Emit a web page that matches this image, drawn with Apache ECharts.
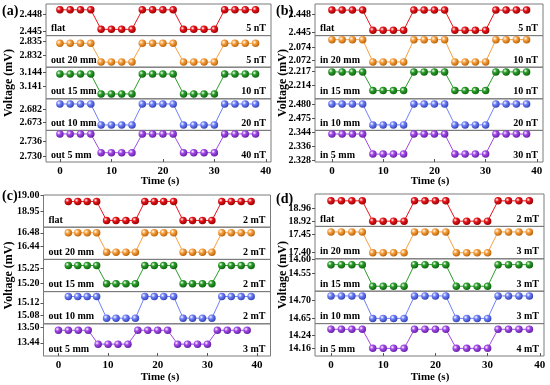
<!DOCTYPE html>
<html><head><meta charset="utf-8">
<script src="https://cdn.jsdelivr.net/npm/echarts@6/dist/echarts.min.js"></script>
<style>html,body{margin:0;padding:0;background:#fff}#c{width:550px;height:385px}</style>
</head><body><div id="c"></div>
<script>
// ---------- DATA ----------
const timeStd = [0,2,4,6,8,10,12,14,16,18,20,22,24,26,28,30,32,34,36,38];
const timeC   = [2.0,3.9,5.8,7.7,9.7,11.6,13.6,15.5,17.4,19.3,21.2,23.2,25.1,27.0,29.0,30.9,32.9,34.8,36.8,38.8];
const xTicks = [0,10,20,30,40];

// panel (a)
const a_flat  = [2.4489,2.4489,2.4489,2.4489,2.4453,2.4453,2.4453,2.4453,2.4489,2.4489,2.4489,2.4489,2.4453,2.4453,2.4453,2.4453,2.4489,2.4489,2.4489,2.4489];
const a_out20 = [2.8346,2.8346,2.8346,2.8346,2.8304,2.8304,2.8304,2.8304,2.8346,2.8346,2.8346,2.8346,2.8304,2.8304,2.8304,2.8304,2.8346,2.8346,2.8346,2.8346];
const a_out15 = [3.1437,3.1437,3.1437,3.1437,3.1392,3.1392,3.1392,3.1392,3.1437,3.1437,3.1437,3.1437,3.1392,3.1392,3.1392,3.1392,3.1437,3.1437,3.1437,3.1437];
const a_out10 = [2.6854,2.6854,2.6854,2.6854,2.6712,2.6712,2.6712,2.6712,2.6854,2.6854,2.6854,2.6854,2.6712,2.6712,2.6712,2.6712,2.6854,2.6854,2.6854,2.6854];
const a_out5  = [2.7391,2.7391,2.7391,2.7391,2.7316,2.7316,2.7316,2.7316,2.7391,2.7391,2.7391,2.7391,2.7316,2.7316,2.7316,2.7316,2.7391,2.7391,2.7391,2.7391];
// panel (b)
const b_flat  = [2.4488,2.4488,2.4488,2.4488,2.4453,2.4453,2.4453,2.4453,2.4488,2.4488,2.4488,2.4488,2.4453,2.4453,2.4453,2.4453,2.4488,2.4488,2.4488,2.4488];
const b_in20  = [2.0752,2.0752,2.0752,2.0752,2.0717,2.0717,2.0717,2.0717,2.0752,2.0752,2.0752,2.0752,2.0717,2.0717,2.0717,2.0717,2.0752,2.0752,2.0752,2.0752];
const b_in15  = [2.2168,2.2168,2.2168,2.2168,2.2128,2.2128,2.2128,2.2128,2.2168,2.2168,2.2168,2.2168,2.2128,2.2128,2.2128,2.2128,2.2168,2.2168,2.2168,2.2168];
const b_in10  = [2.4800,2.4800,2.4800,2.4800,2.4727,2.4727,2.4727,2.4727,2.4800,2.4800,2.4800,2.4800,2.4727,2.4727,2.4727,2.4727,2.4800,2.4800,2.4800,2.4800];
const b_in5   = [2.3430,2.3430,2.3430,2.3430,2.3314,2.3314,2.3314,2.3314,2.3430,2.3430,2.3430,2.3430,2.3314,2.3314,2.3314,2.3314,2.3430,2.3430,2.3430,2.3430];
// panel (c)
const c_flat  = [18.982,18.982,18.982,18.982,18.923,18.923,18.923,18.923,18.982,18.982,18.982,18.982,18.923,18.923,18.923,18.923,18.982,18.982,18.982,18.982];
const c_out20 = [16.480,16.480,16.480,16.480,16.422,16.422,16.422,16.422,16.480,16.480,16.480,16.480,16.422,16.422,16.422,16.422,16.480,16.480,16.480,16.480];
const c_out15 = [15.260,15.260,15.260,15.260,15.200,15.200,15.200,15.200,15.260,15.260,15.260,15.260,15.200,15.200,15.200,15.200,15.260,15.260,15.260,15.260];
const c_out10 = [15.140,15.140,15.140,15.140,15.071,15.071,15.071,15.071,15.140,15.140,15.140,15.140,15.071,15.071,15.071,15.071,15.140,15.140,15.140,15.140];
const c_out5  = [13.490,13.490,13.490,13.490,13.435,13.435,13.435,13.435,13.490,13.490,13.490,13.490,13.435,13.435,13.435,13.435,13.490,13.490,13.490,13.490];
// panel (d)
const d_flat  = [18.983,18.983,18.983,18.983,18.921,18.921,18.921,18.921,18.983,18.983,18.983,18.983,18.921,18.921,18.921,18.921,18.983,18.983,18.983,18.983];
const d_in20  = [17.457,17.457,17.457,17.457,17.398,17.398,17.398,17.398,17.457,17.457,17.457,17.457,17.398,17.398,17.398,17.398,17.457,17.457,17.457,17.457];
const d_in15  = [14.581,14.581,14.581,14.581,14.507,14.507,14.507,14.507,14.581,14.581,14.581,14.581,14.507,14.507,14.507,14.507,14.581,14.581,14.581,14.581];
const d_in10  = [14.711,14.711,14.711,14.711,14.650,14.650,14.650,14.650,14.711,14.711,14.711,14.711,14.650,14.650,14.650,14.650,14.711,14.711,14.711,14.711];
const d_in5   = [14.276,14.276,14.276,14.276,14.160,14.160,14.160,14.160,14.276,14.276,14.276,14.276,14.160,14.160,14.160,14.160,14.276,14.276,14.276,14.276];

// y tick labels
const a_yTicks = [[2.445,2.448],[2.832,2.835],[3.141,3.144],[2.673,2.682],[2.730,2.736]];
const b_yTicks = [[2.445,2.448],[2.072,2.074],[2.214,2.217],[2.475,2.480],[2.328,2.336,2.344]];
const c_yTicks = [[18.95,19.00],[16.44,16.48],[15.20,15.25],[15.08,15.12],[13.44,13.50]];
const d_yTicks = [[18.92,18.96],[17.40,17.45],[14.55,14.60],[14.65,14.70],[14.16,14.24]];

// axis ranges
const a_yRange = [[2.44415,2.44997],[2.82925,2.83633],[3.13811,3.14524],[2.66752,2.6889],[2.72788,2.74052]];
const b_yRange = [[2.44438,2.44986],[2.07087,2.07584],[2.21104,2.21781],[2.47077,2.48182],[2.32684,2.3451]];
const c_yRange = [[18.902,19.002],[16.4003,16.4967],[15.174,15.28],[15.053,15.1557],[13.388,13.5156]];
const d_yRange = [[18.905,19.0039],[17.381,17.4727],[14.49,14.601],[14.6358,14.7239],[14.1136,14.3105]];

const a_names = ['flat','out 20 mm','out 15 mm','out 10 mm','out 5 mm'];
const b_names = ['flat','in 20 mm','in 15 mm','in 10 mm','in 5 mm'];
const c_names = ['flat','out 20 mm','out 15 mm','out 10 mm','out 5 mm'];
const d_names = ['flat','in 20 mm','in 15 mm','in 10 mm','in 5 mm'];
const a_fields = ['5 nT','5 nT','10 nT','20 nT','40 nT'];
const b_fields = ['5 nT','10 nT','10 nT','20 nT','30 nT'];
const c_fields = ['2 mT','2 mT','2 mT','2 mT','3 mT'];
const d_fields = ['2 mT','3 mT','3 mT','3 mT','4 mT'];

// ---------- LAYOUT / STYLE ----------
const FONT = '"Liberation Serif","Times New Roman",serif';
const colors = [
  ['#e8141a','#8a0000'],
  ['#f7a040','#b05a00'],
  ['#2a9d2a','#0d5a0d'],
  ['#6f80f8','#2a3aa8'],
  ['#a24ae8','#5a1a98']
];
const panels = [
  {tag:'(a)', left:46, top:4, width:225, height:158, xMin:-2.7, xMax:41.0, dec:3,
   series:[a_flat,a_out20,a_out15,a_out10,a_out5], times:[timeStd,timeStd,timeStd,timeStd,timeStd],
   yTicks:a_yTicks, yRange:a_yRange, names:a_names, fields:a_fields, tagPos:[2,12], yTitleX:9, tX:160, tY:181},
  {tag:'(b)', left:315, top:4, width:228, height:158, xMin:-3.3, xMax:41.2, dec:3,
   series:[b_flat,b_in20,b_in15,b_in10,b_in5], times:[timeStd,timeStd,timeStd,timeStd,timeStd],
   yTicks:b_yTicks, yRange:b_yRange, names:b_names, fields:b_fields, tagPos:[276,12], yTitleX:283, tX:430, tY:181},
  {tag:'(c)', left:43.5, top:195, width:227, height:161, xMin:-3.0, xMax:42.7, dec:2,
   series:[c_flat,c_out20,c_out15,c_out10,c_out5], times:[timeC,timeC,timeC,timeC,timeStd],
   yTicks:c_yTicks, yRange:c_yRange, names:c_names, fields:c_fields, tagPos:[2,197], yTitleX:9, tX:160, tY:377},
  {tag:'(d)', left:315, top:194, width:229, height:162, xMin:-3.06, xMax:40.8, dec:2,
   series:[d_flat,d_in20,d_in15,d_in10,d_in5], times:[timeStd,timeStd,timeStd,timeStd,timeStd],
   yTicks:d_yTicks, yRange:d_yRange, names:d_names, fields:d_fields, tagPos:[276,200], yTitleX:283, tX:430, tY:377}
];

const grid=[], xAxis=[], yAxis=[], series=[], graphic=[];
panels.forEach((p,pi)=>{
  const h = p.height/5;
  for(let s=0;s<5;s++){
    const idx = pi*5+s;
    const top = p.top + s*h;
    const last = s===4;
    grid.push({left:p.left, top:top, width:p.width, height:h, show:true,
      borderColor:'#7a7a7a', borderWidth:1, backgroundColor:'transparent', containLabel:false});
    xAxis.push({type:'value', gridIndex:idx, min:p.xMin, max:p.xMax, position:'bottom',
      axisLine:{show:false, onZero:false}, splitLine:{show:false},
      axisTick:{show:last, inside:true, length:3, customValues:xTicks, lineStyle:{color:'#555'}},
      axisLabel:{show:last, customValues:xTicks, margin:4, color:'#000',
        fontFamily:FONT, fontWeight:'bold', fontSize:11}});
    yAxis.push({type:'value', gridIndex:idx, min:p.yRange[s][0], max:p.yRange[s][1], position:'left',
      axisLine:{show:false, onZero:false}, splitLine:{show:false},
      axisTick:{show:true, inside:false, length:3, customValues:p.yTicks[s], lineStyle:{color:'#555'}},
      axisLabel:{customValues:p.yTicks[s], margin:4, color:'#000', fontFamily:FONT, fontWeight:'bold', fontSize:10,
        formatter:(v)=>Number(v).toFixed(p.dec)}});
    const [c,dk] = colors[s];
    series.push({type:'line', xAxisIndex:idx, yAxisIndex:idx,
      data:p.times[s].map((t,i)=>[t,p.series[s][i]]),
      symbol:'circle', symbolSize:7.5, showSymbol:true, animation:false,
      lineStyle:{color:c, width:1},
      itemStyle:{color:{type:'radial', x:0.35, y:0.35, r:0.75,
        colorStops:[{offset:0,color:'#ffffff'},{offset:0.35,color:c},{offset:1,color:dk}]}, borderWidth:0}});
    graphic.push({type:'text', left:p.left+5, top:top+h-12,
      style:{text:p.names[s], font:'bold 10px '+FONT, fill:'#000'}});
    graphic.push({type:'text', right:550-(p.left+p.width)+5, top:top+h-12,
      style:{text:p.fields[s], font:'bold 10px '+FONT, fill:'#000'}});
  }
  graphic.push({type:'text', left:p.tagPos[0], top:p.tagPos[1]-8,
    style:{text:p.tag, font:'bold 14px '+FONT, fill:'#000'}});
  graphic.push({type:'text', x:p.tX, y:p.tY,
    style:{text:'Time (s)', font:'bold 11px '+FONT, fill:'#000', align:'center', verticalAlign:'middle'}});
  graphic.push({type:'text', x:p.yTitleX, y:p.top+p.height/2, rotation:Math.PI/2,
    style:{text:'Voltage (mV)', font:'bold 12px '+FONT, fill:'#000', align:'center', verticalAlign:'middle'}});
});

const chart = echarts.init(document.getElementById('c'), null, {renderer:'canvas'});
chart.setOption({animation:false, backgroundColor:'#fff', grid, xAxis, yAxis, series, graphic});
</script></body></html>
